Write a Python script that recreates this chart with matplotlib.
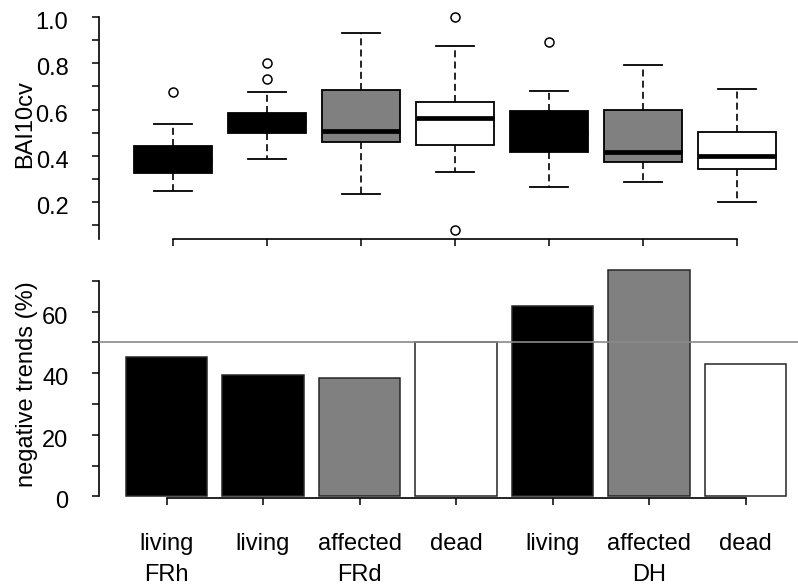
import matplotlib
matplotlib.use("Agg")
import matplotlib.pyplot as plt
import matplotlib.transforms as mtransforms

plt.rcParams['font.family'] = ['Liberation Sans', 'DejaVu Sans']

# ---- data -------------------------------------------------------------
categories = ["living", "living", "affected", "dead", "living", "affected", "dead"]
groups = ["FRh", "FRd", "DH"]
group_positions = [1, 3, 6]

# BAI10cv box statistics per category
bai_whislo = [0.247, 0.385, 0.234, 0.329, 0.267, 0.287, 0.198]
bai_q1 = [0.327, 0.500, 0.461, 0.447, 0.416, 0.375, 0.342]
bai_med = [0.380, 0.550, 0.509, 0.565, 0.500, 0.418, 0.398]
bai_q3 = [0.443, 0.587, 0.683, 0.632, 0.593, 0.600, 0.502]
bai_whishi = [0.536, 0.675, 0.930, 0.875, 0.682, 0.791, 0.688]
bai_outliers = [[0.675], [0.73, 0.80], [], [1.0, 0.08], [0.893], [], []]

# share of trees with negative trends (%)
neg_trends = [45.2, 39.5, 38.4, 50.0, 61.7, 73.5, 42.9]
threshold = 50

fills = ["black", "black", "#808080", "white", "black", "#808080", "white"]

# ---- figure -----------------------------------------------------------
W, H = 798, 587
fig = plt.figure(figsize=(W / 100, H / 100), dpi=100)

positions = list(range(1, len(categories) + 1))

ax1 = fig.add_axes([99 / W, 1 - 239 / H, 699 / W, (239 - 7.8) / H])
ax2 = fig.add_axes([99 / W, 1 - 498 / H, 699 / W, (498 - 262.4) / H])

# ---- top: boxplots ----------------------------------------------------
stats = []
for i in range(len(categories)):
    stats.append(dict(whislo=bai_whislo[i], q1=bai_q1[i], med=bai_med[i],
                      q3=bai_q3[i], whishi=bai_whishi[i],
                      fliers=bai_outliers[i], label=categories[i]))

res = ax1.bxp(stats, positions=positions, widths=0.82, patch_artist=True,
              boxprops=dict(linewidth=1.3, edgecolor="black"),
              whiskerprops=dict(linewidth=1.2, color="black",
                                linestyle=(0, (4.2, 2.5))),
              capprops=dict(linewidth=1.3, color="black"),
              medianprops=dict(color="black", linewidth=3.4,
                               solid_capstyle="butt"),
              flierprops=dict(marker="o", markerfacecolor="none",
                              markeredgecolor="black", markersize=6.5,
                              markeredgewidth=1.1))
for patch, c in zip(res["boxes"], fills):
    patch.set_facecolor(c)

ax1.set_xlim(0.2128, 7.649)
ax1.set_ylim(0.04, 1.04)
ax1.set_yticks([0.2, 0.4, 0.6, 0.8, 1.0])
ax1.set_yticklabels(["0.2", "0.4", "0.6", "0.8", "1.0"])
ax1.set_yticks([0.1, 0.3, 0.5, 0.7, 0.9], minor=True)
ax1.set_xticks(positions)
ax1.set_xticklabels([])
ax1.spines["top"].set_visible(False)
ax1.spines["right"].set_visible(False)
ax1.spines["left"].set_bounds(0.04, 1.0)
ax1.spines["bottom"].set_bounds(1, 7)

# ---- bottom: bars -----------------------------------------------------
ax2.bar(positions, neg_trends, width=0.84, color=fills,
        edgecolor="#262626", linewidth=1.1, zorder=2)
ax2.axhline(threshold, color="#8a8a8a", linewidth=1.2, zorder=5)
ax2.set_xlim(0.3005, 7.544)
ax2.set_ylim(-0.5, 76)
ax2.set_yticks([0, 20, 40, 60])
ax2.set_yticklabels(["0", "20", "40", "60"])
ax2.set_yticks([10, 30, 50, 70], minor=True)
ax2.set_xticks(positions)
ax2.set_xticklabels([])
ax2.spines["top"].set_visible(False)
ax2.spines["right"].set_visible(False)
ax2.spines["left"].set_bounds(0, 70)
ax2.spines["bottom"].set_bounds(1, 7)

for ax in (ax1, ax2):
    for sp in ax.spines.values():
        sp.set_linewidth(1.2)
    ax.tick_params(axis="both", which="both", direction="out", length=5,
                   width=1.1, labelsize=17, pad=17, labelbottom=False)
    ax.set_facecolor("none")

# category and group labels below the bars
trans = mtransforms.blended_transform_factory(ax2.transData, fig.transFigure)
for x, lab in zip(positions, categories):
    ax2.text(x, 1 - 550 / H, lab, transform=trans, ha="center",
             va="baseline", fontsize=17)
for x, lab in zip(group_positions, groups):
    ax2.text(x, 1 - 581 / H, lab, transform=trans, ha="center",
             va="baseline", fontsize=17)

fig.text(25.5 / W, 1 - 124 / H, "BAI10cv", rotation=90, ha="center",
         va="center", fontsize=17)
fig.text(27 / W, 1 - 384 / H, "negative trends (%)", rotation=90,
         ha="center", va="center", fontsize=17)

# nudge y tick labels slightly downward
shift = mtransforms.ScaledTranslation(0, -3.5 / 100, fig.dpi_scale_trans)
for ax in (ax1, ax2):
    for lbl in ax.get_yticklabels():
        lbl.set_transform(lbl.get_transform() + shift)

fig.savefig("out.png", dpi=100)
